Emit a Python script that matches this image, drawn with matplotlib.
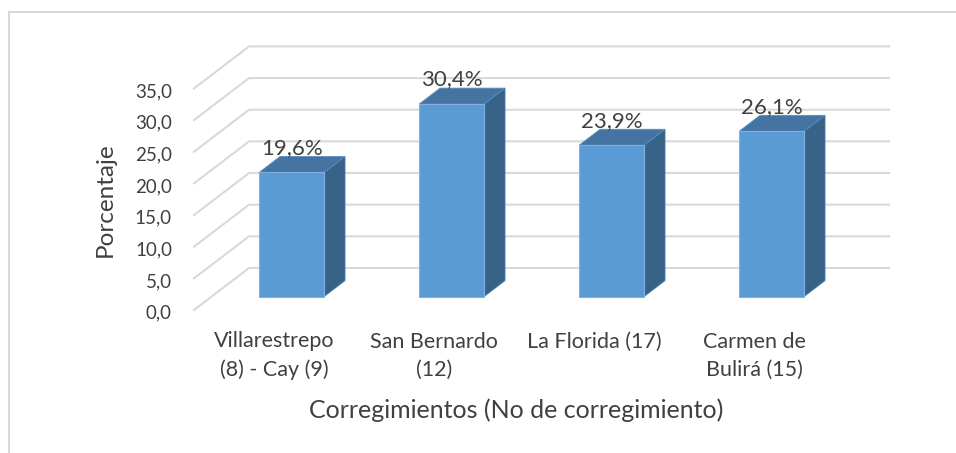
import matplotlib
matplotlib.use("Agg")
import matplotlib.pyplot as plt
from matplotlib.patches import Polygon
from matplotlib.lines import Line2D

plt.rcParams['font.family'] = ['Lato', 'DejaVu Sans']

# data
categories = ["Villarestrepo\n(8) - Cay (9)", "San Bernardo\n(12)",
              "La Florida (17)", "Carmen de\nBulirá (15)"]
values = [19.6, 30.4, 23.9, 26.1]
value_labels = ["19,6%", "30,4%", "23,9%", "26,1%"]
yticks = [0, 5, 10, 15, 20, 25, 30, 35]
ytick_labels = ["0,0", "5,0", "10,0", "15,0", "20,0", "25,0", "30,0", "35,0"]

# fake 3d: depth z in [0, 1] shifts right and up
DX = 0.344   # category units per full depth
DY = 6.64    # value units per full depth
Z0, Z1 = 0.32, 0.70
HALF = 0.203

front_col = "#5B9BD5"
top_col = "#4574A2"
side_col = "#386389"
grid_col = "#D9D9D9"
text_col = "#404040"


def P(c, v, z):
    return (c + z * DX, v + z * DY)


fig = plt.figure(figsize=(9.56, 4.53), dpi=100)
ax = fig.add_axes([0, 0, 1, 1])
ax.set_xlim(-1.7125, 4.2625)
ax.set_ylim(-22.59, 48.97)
ax.axis('off')

n = len(categories)
left, right = -0.5, n - 0.5

# gridlines: back wall + left wall diagonals
for t in yticks:
    x0, y0 = P(left, t, 0)
    x1, y1 = P(left, t, 1)
    x2, y2 = P(right, t, 1)
    ax.plot([x0, x1, x2], [y0, y1, y2], color=grid_col, lw=1.5,
            solid_joinstyle='miter', zorder=1)

for i, v in enumerate(values):
    a, b = i - HALF, i + HALF
    side = [P(b, 0, Z0), P(b, 0, Z1), P(b, v, Z1), P(b, v, Z0)]
    top = [P(a, v, Z0), P(b, v, Z0), P(b, v, Z1), P(a, v, Z1)]
    front = [P(a, 0, Z0), P(b, 0, Z0), P(b, v, Z0), P(a, v, Z0)]
    ax.add_patch(Polygon(side, closed=True, fc=side_col, ec="#4a78a4", lw=0.6, zorder=3))
    ax.add_patch(Polygon(top, closed=True, fc=top_col, ec="#5a8cc0", lw=0.6, zorder=3))
    ax.add_patch(Polygon(front, closed=True, fc=front_col, ec="#7fb0e0", lw=0.8, zorder=4))
    lx, ly = P(i, v, Z0)
    _, ty = P(i, v, Z1)
    ax.text(lx, ty + 1.35, value_labels[i], ha='center', va='center',
            fontsize=16, color=text_col, zorder=5)

for t, lab in zip(yticks, ytick_labels):
    ax.text(-0.6375, t - 0.5, lab, ha='right', va='center',
            fontsize=13.5, color=text_col)

for i, lab in enumerate(categories):
    if "\n" in lab:
        ax.text(i, -7.25, lab, ha='center', va='center', fontsize=15.5,
                color=text_col, linespacing=1.5)
    else:
        ax.text(i, -5.0, lab, ha='center', va='center', fontsize=15.5,
                color=text_col)

ax.text(-1.056, 17.5, "Porcentaje", rotation=90, ha='center', va='center',
        fontsize=17.5, color=text_col)
ax.text(1.5125, -15.8, "Corregimientos (No de corregimiento)", ha='center',
        va='center', fontsize=18, color=text_col)

# chart border (only top and left visible)
fig.add_artist(Line2D([9 / 956, 9 / 956], [0, 1 - 11.5 / 453],
                      transform=fig.transFigure, color=grid_col, lw=1.5))
fig.add_artist(Line2D([9 / 956, 1], [1 - 11.5 / 453, 1 - 11.5 / 453],
                      transform=fig.transFigure, color=grid_col, lw=1.5))

fig.savefig("out.png", dpi=100)
